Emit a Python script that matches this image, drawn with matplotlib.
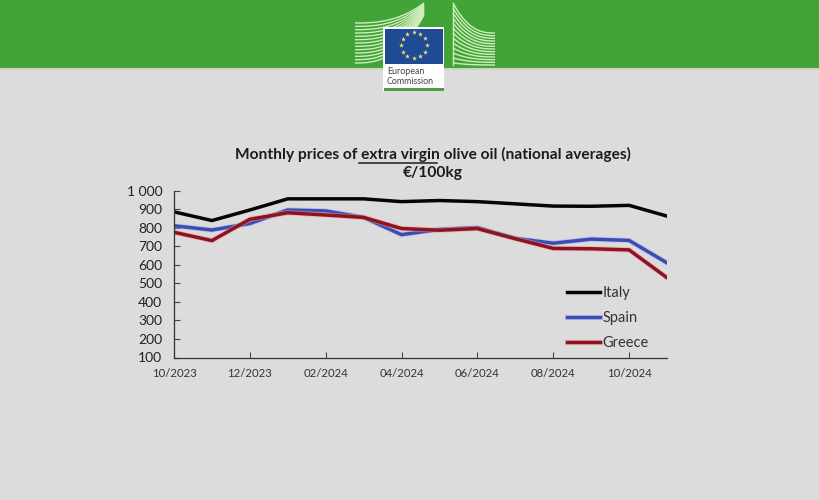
import numpy as np
import matplotlib
matplotlib.use("Agg")
import matplotlib.pyplot as plt
from matplotlib.patches import Rectangle
import matplotlib.patheffects as pe

months = ["10/2023", "11/2023", "12/2023", "01/2024", "02/2024", "03/2024", "04/2024",
          "05/2024", "06/2024", "07/2024", "08/2024", "09/2024", "10/2024", "11/2024"]
italy = [885, 838, 895, 955, 955, 955, 940, 946, 940, 928, 916, 915, 920, 862]
spain = [810, 787, 822, 895, 890, 855, 762, 790, 800, 742, 716, 738, 731, 610]
greece = [775, 730, 845, 880, 868, 855, 795, 786, 795, 740, 688, 686, 680, 530]
yticks = [100, 200, 300, 400, 500, 600, 700, 800, 900, 1000]
ylabels = ["100", "200", "300", "400", "500", "600", "700", "800", "900", "1 000"]

FONT = ["Lato", "DejaVu Sans"]
W, H = 820, 500
fig = plt.figure(figsize=(8.2, 5), dpi=100, facecolor="#dcdcdc")

# banner and logo overlay in pixel coordinates
bg = fig.add_axes([0, 0, 1, 1], zorder=0)
bg.set_xlim(0, W); bg.set_ylim(H, 0); bg.axis("off")
bg.add_patch(Rectangle((0, 0), W, 68, color="#42a436", lw=0))
bg.add_patch(Rectangle((0, 68), W, 2, color="#c9d6c4", lw=0))
pale = "#cfeebb"
for f in np.linspace(0, 1, 13):
    # left building
    y0 = 23 + f * 40
    t = np.linspace(0, 1, 40)
    x = 355 + t * 69
    y = y0 + (3 + f * 12 - y0) * t ** 2.6
    keep = (x < 384) | (y < 27)
    bg.plot(x[keep], y[keep], color=pale, lw=1.0, solid_capstyle="butt")
    # right building
    x = 453 + t * 42
    yend = 33 + f * 32
    ystart = 3 + f * 60
    y = yend + (ystart - yend) * (1 - t) ** 2.6
    keep = (x > 444) | (y < 27)
    bg.plot(x[keep], y[keep], color=pale, lw=1.0, solid_capstyle="butt")
bg.plot([453, 453], [3, 65], color=pale, lw=1.0)
bg.add_patch(Rectangle((383, 27), 61, 64, facecolor="white", edgecolor="none", zorder=3))
bg.add_patch(Rectangle((385, 29), 58, 35, facecolor="#1f4a94", edgecolor="none", zorder=4))
bg.add_patch(Rectangle((384, 88), 60, 3, facecolor="#4f9a45", edgecolor="none", zorder=4))
ang = np.arange(12) * np.pi / 6
bg.scatter(414 + 13 * np.cos(ang), 45 + 13 * np.sin(ang), marker="*", s=14,
           color="#f4e26a", linewidths=0, zorder=5)
bg.text(387, 72, "European", fontsize=6.4, color="#444444", va="center", ha="left",
        family=FONT, zorder=5)
bg.text(387, 81, "Commission", fontsize=6.4, color="#444444", va="center", ha="left",
        family=FONT, zorder=5)

# title
bg.text(433, 154, "Monthly prices of extra virgin olive oil (national averages)",
        fontsize=11.15, fontweight="bold", color="#1c1c1c", ha="center", va="center", family=FONT)
bg.text(432.5, 173, "€/100kg", fontsize=11.15, fontweight="bold", color="#1c1c1c",
        ha="center", va="center", family=FONT)
bg.plot([359, 437], [163, 163], color="#1c1c1c", lw=1.1)

# chart
L, R, T, B = 174, 667, 190.5, 357.5
ax = fig.add_axes([L / W, 1 - B / H, (R - L) / W, (B - T) / H], zorder=2)
ax.patch.set_alpha(0)
x = np.arange(len(months))
halo = lambda c: [pe.Stroke(linewidth=3.8, foreground=c, alpha=0.55), pe.Normal()]
ax.plot(x, italy, color="#050505", lw=2.5, label="Italy", solid_joinstyle="miter")
ax.plot(x, spain, color="#3b4db5", lw=2.5, label="Spain", path_effects=halo("#a9b4ee"),
        solid_joinstyle="miter")
ax.plot(x, greece, color="#8c1420", lw=2.5, label="Greece", path_effects=halo("#f0989c"),
        solid_joinstyle="miter")
ax.set_xlim(0, len(months) - 1)
ax.set_ylim(100, 1000)
ax.set_xticks(x[::2])
ax.set_xticklabels(months[::2], family=FONT, fontsize=8.2, color="#333333")
ax.set_yticks(yticks)
ax.set_yticklabels(ylabels, family=FONT, fontsize=10, color="#222222")
ax.tick_params(axis="x", direction="in", length=4, width=0.8, color="#444444", pad=7.5)
ax.tick_params(axis="y", direction="in", length=4, width=0.8, color="#444444", pad=8.5)
for s in ("top", "right"):
    ax.spines[s].set_visible(False)
for s in ("left", "bottom"):
    ax.spines[s].set_color("#333333")
    ax.spines[s].set_linewidth(0.9)
leg = ax.legend(loc="lower left", bbox_to_anchor=(0.797, 0.047), frameon=False, ncol=1,
                handlelength=2.3, handletextpad=0.15, labelspacing=0.75,
                prop={"family": FONT, "size": 10.5}, borderaxespad=0, borderpad=0)
for t in leg.get_texts():
    t.set_color("#333333")

fig.savefig("out.png", dpi=100, facecolor=fig.get_facecolor())
